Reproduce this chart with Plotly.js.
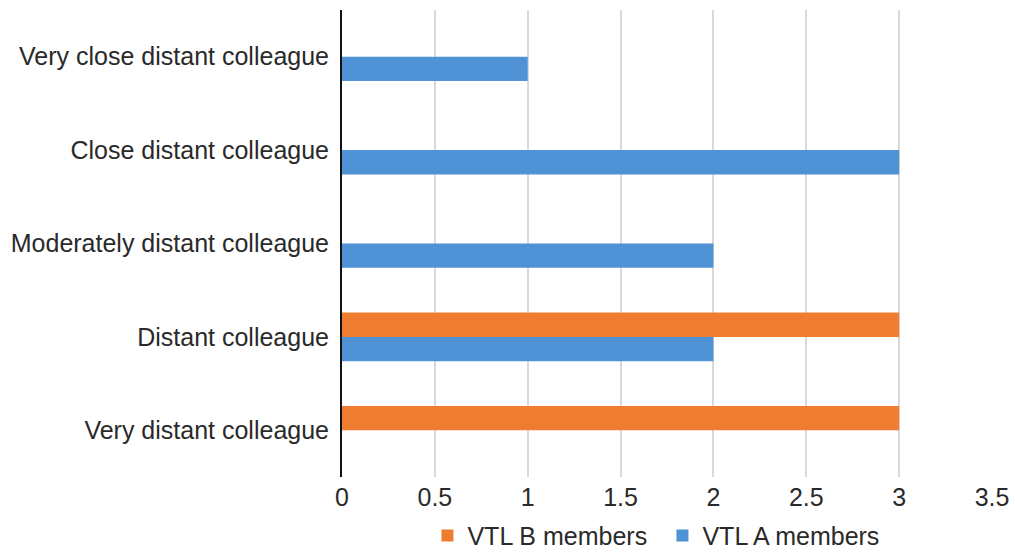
<!DOCTYPE html>
<html>
<head>
<meta charset="utf-8">
<script src="https://cdn.plot.ly/plotly-3.0.1.min.js"></script>
<style>html,body{margin:0;padding:0;background:#fff;}#chart{width:1015px;height:554px;}</style>
</head>
<body>
<div id="chart"></div>
<script>
const categories = ["Very distant colleague", "Distant colleague", "Moderately distant colleague", "Close distant colleague", "Very close distant colleague"];
const vtlA = [0, 2, 2, 3, 1];
const vtlB = [3, 3, 0, 0, 0];
const xTicks = [0, 0.5, 1, 1.5, 2, 2.5, 3, 3.5];

const font = {family: "Liberation Sans, Arial, sans-serif", size: 25, color: "#2a2a2a"};

const traces = [
  {type: "bar", orientation: "h", name: "VTL A members", y: categories, x: vtlA,
   marker: {color: "#4f93d6"}},
  {type: "bar", orientation: "h", name: "VTL B members", y: categories, x: vtlB,
   marker: {color: "#ef7d31"}}
];

const layout = {
  width: 1015, height: 554,
  margin: {l: 342, r: 23, t: 10, b: 77},
  paper_bgcolor: "#fff", plot_bgcolor: "#fff",
  barmode: "group", bargap: 0.48, bargroupgap: 0,
  font: font,
  showlegend: true,
  legend: {orientation: "h", traceorder: "reversed", xref: "paper", x: 0.493, xanchor: "center",
           yref: "container", y: 0.033, yanchor: "middle", font: font,
           entrywidth: 190, entrywidthmode: "pixels", borderwidth: 0},
  xaxis: {range: [0, 3.5], tickvals: xTicks, ticktext: xTicks.map(String),
          showgrid: true, gridcolor: "#d9d9d9", gridwidth: 2, zeroline: false,
          showline: false, ticks: "", ticklen: 0, ticklabelstandoff: 3,
          tickfont: font, fixedrange: true},
  yaxis: {type: "category", categoryorder: "array", categoryarray: categories,
          range: [-0.5, 4.5], showgrid: false, zeroline: false,
          showline: true, linecolor: "#111", linewidth: 2, ticks: "",
          ticklabelstandoff: 6, tickfont: font, fixedrange: true}
};

Plotly.newPlot("chart", traces, layout, {displayModeBar: false, staticPlot: true});
</script>
</body>
</html>
